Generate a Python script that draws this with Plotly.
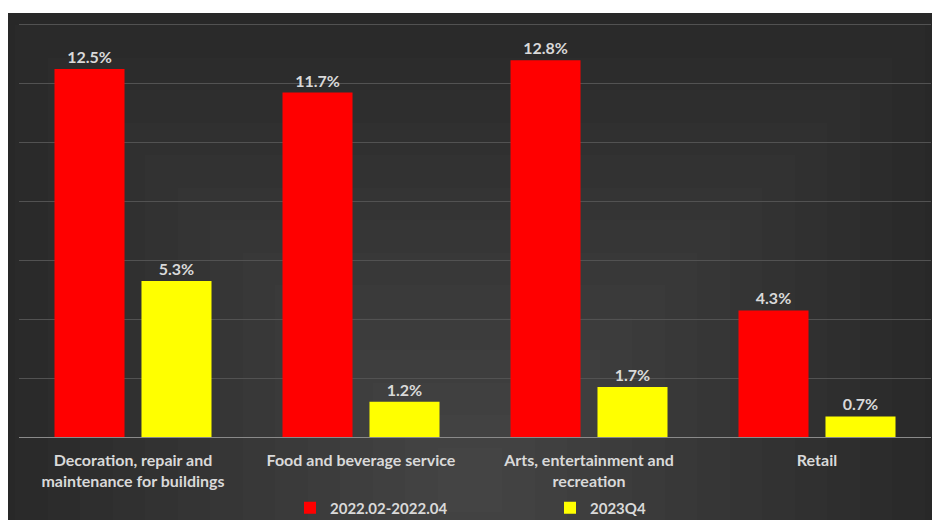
import plotly.graph_objects as go

categories = ["Decoration, repair and<br>maintenance for buildings",
              "Food and beverage service",
              "Arts, entertainment and<br>recreation",
              "Retail"]
series1_name = "2022.02-2022.04"
series1 = [12.5, 11.7, 12.8, 4.3]
series2_name = "2023Q4"
series2 = [5.3, 1.2, 1.7, 0.7]

W, H = 932, 520
ml, mr, mt, mb = 19, 1, 16, 83
pw, ph = W - ml - mr, H - mt - mb

def px_x(p):
    return (p - ml) / pw

def px_y(p):
    return (H - mb - p) / ph

txt = "#d9d9d9"
font_fam = "Lato, 'Open Sans', sans-serif"

# background: dark panel with a soft lighter glow toward the lower centre
shapes = [dict(type="rect", xref="paper", yref="paper", layer="below",
               x0=px_x(8), x1=px_x(W + 2), y0=px_y(H + 2), y1=px_y(13),
               fillcolor="#242424", line=dict(width=0))]
cx, cy = 470, 480
steps = 16
for i in range(steps):
    f = 1 - i / steps
    hx = 520 * f
    hy = 520 * f
    x0 = max(8, cx - hx); x1 = min(W + 2, cx + hx)
    y0 = max(13, cy - hy); y1 = min(H + 2, cy + hy)
    shapes.append(dict(type="rect", xref="paper", yref="paper", layer="below",
                       x0=px_x(x0), x1=px_x(x1), y0=px_y(y1), y1=px_y(y0),
                       fillcolor="rgba(255,255,255,0.0105)", line=dict(width=0)))

fig = go.Figure()
fig.add_trace(go.Bar(name=series1_name, x=categories, y=series1,
                     marker=dict(color="#ff0000", line=dict(width=0)),
                     text=[f"{v:.1f}%" for v in series1], textposition="outside",
                     textfont=dict(size=16, color=txt, family=font_fam, weight="bold"),
                     cliponaxis=False))
fig.add_trace(go.Bar(name=series2_name, x=categories, y=series2,
                     marker=dict(color="#ffff00", line=dict(width=0)),
                     text=[f"{v:.1f}%" for v in series2], textposition="outside",
                     textfont=dict(size=16, color=txt, family=font_fam, weight="bold"),
                     cliponaxis=False))

fig.update_layout(
    width=W, height=H,
    margin=dict(l=ml, r=mr, t=mt, b=mb, pad=0, autoexpand=False),
    paper_bgcolor="white",
    plot_bgcolor="rgba(0,0,0,0)",
    barmode="group", bargap=0.237, bargroupgap=0.195,
    font=dict(family=font_fam, color=txt, size=15, weight="bold"),
    showlegend=True,
    legend=dict(orientation="h", x=px_x(290), y=px_y(508), xanchor="left", yanchor="middle",
                entrywidth=215, entrywidthmode="pixels",
                font=dict(size=15, color=txt, family=font_fam, weight="bold"),
                bgcolor="rgba(0,0,0,0)"),
    xaxis=dict(showgrid=False, showline=True, linecolor="#8a8a8a", linewidth=1,
               ticks="", ticklabelstandoff=9,
               tickfont=dict(size=16, color=txt, family=font_fam, weight="bold")),
    yaxis=dict(range=[0, 14.3], tickmode="linear", tick0=0, dtick=2, showticklabels=False,
               ticks="", showgrid=True, gridcolor="#525252", gridwidth=1,
               zeroline=False, showline=False, layer="above traces"),
    shapes=shapes,
)

fig.write_html("out.html")
